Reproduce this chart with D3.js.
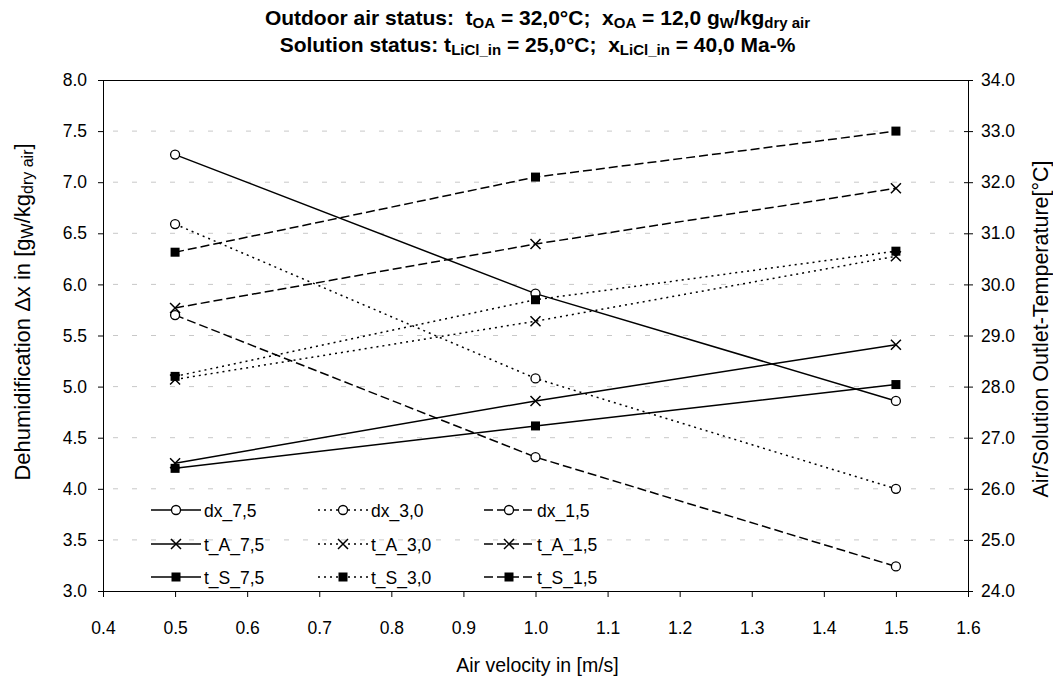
<!DOCTYPE html>
<html>
<head>
<meta charset="utf-8">
<script src="https://cdn.jsdelivr.net/npm/d3@7"></script>
<style>
  body { margin: 0; background: #fff; }
  svg { font-family: "Liberation Sans", Arial, sans-serif; }
  svg text { white-space: pre; }
  .axis path, .axis line { stroke: #000; }
  .axis text { font-size: 17.5px; fill: #000; }
</style>
</head>
<body>
<div id="chart"></div>
<script>
// --- data ---
const velocity = [0.5, 1.0, 1.5];

// dehumidification (left axis, g/kg)
const dx_7_5 = [7.27, 5.91, 4.86];
const dx_3_0 = [6.59, 5.08, 4.00];
const dx_1_5 = [5.70, 4.31, 3.24];

// outlet temperatures (right axis, °C)
const tA_7_5 = [26.50, 27.72, 28.82];
const tA_3_0 = [28.14, 29.28, 30.55];
const tA_1_5 = [29.54, 30.79, 31.88];
const tS_7_5 = [26.40, 27.23, 28.04];
const tS_3_0 = [28.20, 29.70, 30.65];
const tS_1_5 = [30.63, 32.10, 33.00];

const xTicks = [0.4, 0.5, 0.6, 0.7, 0.8, 0.9, 1.0, 1.1, 1.2, 1.3, 1.4, 1.5, 1.6];
const yLeftTicks = [3.0, 3.5, 4.0, 4.5, 5.0, 5.5, 6.0, 6.5, 7.0, 7.5, 8.0];
const yRightTicks = [24, 25, 26, 27, 28, 29, 30, 31, 32, 33, 34];

const W = 1053, H = 679;
const margin = {top: 80, right: 85, bottom: 88, left: 103};
const width = W - margin.left - margin.right;
const height = H - margin.top - margin.bottom;

const svg = d3.select("#chart").append("svg")
    .attr("width", W).attr("height", H);
svg.append("rect").attr("width", W).attr("height", H).attr("fill", "#fff");

const g = svg.append("g").attr("transform", `translate(${margin.left},${margin.top})`);

const x = d3.scaleLinear().domain([0.4, 1.6]).range([0, width]);
const yL = d3.scaleLinear().domain([3, 8]).range([height, 0]);
const yR = d3.scaleLinear().domain([24, 34]).range([height, 0]);

// gridlines
g.append("g").selectAll("line")
  .data(yLeftTicks.slice(1, -1))
  .join("line")
    .attr("x1", 0).attr("x2", width)
    .attr("y1", d => yL(d)).attr("y2", d => yL(d))
    .attr("stroke", "#c8c8c8")
    .attr("stroke-dasharray", "5,14")
    .attr("stroke-dashoffset", -10);

// top border
g.append("line").attr("x1", 0).attr("x2", width).attr("y1", 0.5).attr("y2", 0.5).attr("stroke", "#000");

// axes
g.append("g").attr("class", "axis").attr("transform", `translate(0,${height})`)
  .call(d3.axisBottom(x).tickValues(xTicks).tickFormat(d3.format(".1f")).tickSize(6).tickPadding(25).tickSizeOuter(0));
g.append("g").attr("class", "axis")
  .call(d3.axisLeft(yL).tickValues(yLeftTicks).tickFormat(d3.format(".1f")).tickSize(5).tickPadding(11).tickSizeOuter(0));
const rAx = g.append("g").attr("class", "axis").attr("transform", `translate(${width},0)`)
  .call(d3.axisRight(yR).tickValues(yRightTicks).tickFormat(d3.format(".1f")).tickSize(5).tickPadding(8).tickSizeOuter(0));
rAx.selectAll(".tick line").attr("x1", -4);

// series
const solid = null, dotted = "2,4", dashed = "9,4";
const series = [
  {name: "dx_7,5", vals: dx_7_5, axis: yL, dash: solid, mark: "circle"},
  {name: "dx_3,0", vals: dx_3_0, axis: yL, dash: dotted, mark: "circle"},
  {name: "dx_1,5", vals: dx_1_5, axis: yL, dash: dashed, mark: "circle"},
  {name: "t_A_7,5", vals: tA_7_5, axis: yR, dash: solid, mark: "cross"},
  {name: "t_A_3,0", vals: tA_3_0, axis: yR, dash: dotted, mark: "cross"},
  {name: "t_A_1,5", vals: tA_1_5, axis: yR, dash: dashed, mark: "cross"},
  {name: "t_S_7,5", vals: tS_7_5, axis: yR, dash: solid, mark: "square"},
  {name: "t_S_3,0", vals: tS_3_0, axis: yR, dash: dotted, mark: "square"},
  {name: "t_S_1,5", vals: tS_1_5, axis: yR, dash: dashed, mark: "square"}
];

function drawMarker(sel, type, cx, cy) {
  if (type === "circle") {
    sel.append("circle").attr("cx", cx).attr("cy", cy).attr("r", 4.5)
      .attr("fill", "#fff").attr("stroke", "#000").attr("stroke-width", 1.3);
  } else if (type === "square") {
    sel.append("rect").attr("x", cx - 4.5).attr("y", cy - 4.5).attr("width", 9).attr("height", 9)
      .attr("fill", "#000");
  } else {
    sel.append("path").attr("d", `M${cx-5},${cy-5}L${cx+5},${cy+5}M${cx-5},${cy+5}L${cx+5},${cy-5}`)
      .attr("stroke", "#000").attr("stroke-width", 1.5);
  }
}

series.forEach(s => {
  const pts = velocity.map((v, i) => [x(v), s.axis(s.vals[i])]);
  g.append("path")
    .attr("d", d3.line()(pts))
    .attr("fill", "none").attr("stroke", "#000").attr("stroke-width", 1.5)
    .attr("stroke-dasharray", s.dash);
  pts.forEach(p => drawMarker(g, s.mark, p[0], p[1]));
});

// legend, 3 columns x 3 rows
const legCols = [48, 215, 381];
const legRows = [430, 464, 497];
series.forEach((s, i) => {
  const col = i % 3, row = Math.floor(i / 3);
  const lx = legCols[col], ly = legRows[row];
  const lg = g.append("g");
  lg.append("line").attr("x1", lx).attr("x2", lx + 50).attr("y1", ly).attr("y2", ly)
    .attr("stroke", "#000").attr("stroke-width", 1.5).attr("stroke-dasharray", s.dash);
  drawMarker(lg, s.mark, lx + 25, ly);
  lg.append("text").attr("x", lx + 53).attr("y", ly + 6.5)
    .style("font-size", "17.5px").text(s.name);
});

// text helper with subscripts
function richText(el, parts, subSize) {
  parts.forEach(p => {
    if (typeof p === "string") el.append("tspan").text(p);
    else {
      el.append("tspan").attr("dy", 3).style("font-size", subSize).text(p.sub);
      el.append("tspan").attr("dy", -3).text("\u200B");
    }
  });
}

const cx = margin.left + width / 2 + 2;
const t1 = svg.append("text").attr("x", cx).attr("y", 25).attr("text-anchor", "middle")
  .style("font-size", "21px").style("font-weight", "bold");
richText(t1, ["Outdoor air status:  t", {sub: "OA"}, " = 32,0°C;  x", {sub: "OA"}, " = 12,0 g", {sub: "W"}, "/kg", {sub: "dry air"}], "15px");
const t2 = svg.append("text").attr("x", cx).attr("y", 52).attr("text-anchor", "middle")
  .style("font-size", "21px").style("font-weight", "bold");
richText(t2, ["Solution status: t", {sub: "LiCl_in"}, " = 25,0°C;  x", {sub: "LiCl_in"}, " = 40,0 Ma-%"], "15px");

// axis titles
svg.append("text").attr("x", cx).attr("y", 672).attr("text-anchor", "middle")
  .style("font-size", "19.5px").text("Air velocity in [m/s]");

const yl = svg.append("text").attr("transform", "translate(30,312) rotate(-90)")
  .attr("text-anchor", "middle").style("font-size", "22px");
richText(yl, ["Dehumidification \u0394x in [g", {sub: "W"}, "/kg", {sub: "dry air"}, "]"], "16px");

svg.append("text").attr("transform", "translate(1048,329) rotate(-90)")
  .attr("text-anchor", "middle").style("font-size", "21.5px")
  .text("Air/Solution Outlet-Temperature[°C]");
</script>
</body>
</html>
